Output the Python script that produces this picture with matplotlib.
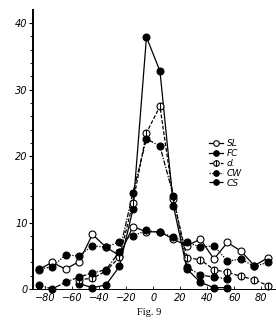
import numpy as np
import matplotlib
matplotlib.use('Agg')
import matplotlib.pyplot as plt
from matplotlib.path import Path
from matplotlib.legend_handler import HandlerLine2D

# angle positions (degrees) and the five series
X = [-85, -75, -65, -55, -45, -35, -25, -15, -5, 5, 15, 25, 35, 45, 55, 65, 75, 85]
nan = np.nan
SL = [2.9, 4.0, 3.0, 4.1, 8.2, 6.3, 5.0, 9.4, 8.6, 8.6, 7.5, 6.5, 7.5, 4.5, 7.0, 5.7, 3.5, 4.7]
FC = [nan, nan, nan, 0.8, 0.2, 0.6, 3.4, 12.0, 37.9, 32.8, 12.5, 3.0, 1.0, 0.2, 0.2, nan, nan, nan]
D = [nan, nan, nan, 1.4, 1.6, 2.7, 4.8, 13.0, 23.5, 27.5, 13.5, 4.7, 4.4, 2.9, 2.5, 1.9, 1.4, 0.5]
CW = [3.0, 3.3, 5.1, 5.0, 6.5, 6.3, 7.1, 8.0, 8.8, 8.5, 7.8, 7.0, 6.3, 6.5, 4.2, 4.5, 3.4, 4.0]
CS = [0.6, 0.0, 1.0, 1.8, 2.4, 2.9, 5.6, 14.5, 22.6, 21.5, 14.0, 3.3, 2.1, 1.8, 1.5, nan, nan, nan]

LABELS = ["SL", "FC", "d.", "CW", "CS"]
X_TICKS = [-80, -60, -40, -20, 0, 20, 40, 60, 80]
Y_TICKS = [0, 10, 20, 30, 40]


class EndMarkerHandler(HandlerLine2D):
    """Legend handle: line with the marker at its right end."""
    def get_xdata(self, legend, xdescent, ydescent, width, height, fontsize):
        xdata = np.array([-xdescent, -xdescent + width])
        return xdata, np.array([-xdescent + width])


# circle with a vertical bar for the "d." series
bar_circle = Path.make_compound_path(Path.unit_circle(),
                                     Path([(0, -1), (0, 1)], [Path.MOVETO, Path.LINETO]))

fig = plt.figure(figsize=(2.76, 3.2), dpi=100)
ax = fig.add_axes([0.12, 0.097, 0.88, 0.872])

styles = [
    dict(ls="-", marker="o", mfc="white"),
    dict(ls="-", marker="o", mfc="black"),
    dict(ls=(0, (3, 1.5)), marker=bar_circle, mfc="white"),
    dict(ls=(0, (1, 1.2)), marker="o", mfc="black"),
    dict(ls=(0, (4, 1.2, 1, 1.2)), marker="o", mfc="black"),
]
handles = []
for ys, lab, st in zip([SL, FC, D, CW, CS], LABELS, styles):
    h, = ax.plot(X, ys, color="black", lw=0.9, ms=5, mec="black", mew=0.8,
                 label=lab, clip_on=False, **st)
    handles.append(h)

ax.set_xlim(-89, 91)
ax.set_ylim(0, 42)
ax.spines["top"].set_visible(False)
ax.spines["right"].set_visible(False)
ax.spines["left"].set_linewidth(1.4)
ax.spines["bottom"].set_linewidth(0.7)

ax.set_xticks(X_TICKS)
ax.set_xticklabels([str(t).replace("-", "\u2212") for t in X_TICKS])
ax.set_yticks(Y_TICKS)
ax.set_yticks(np.arange(0, 42, 2), minor=True)
ax.tick_params(axis="x", direction="in", length=2, width=0.6, labelsize=7, pad=3)
ax.tick_params(axis="y", direction="out", length=3, width=0.8, labelsize=7, pad=1)
ax.tick_params(axis="y", which="minor", direction="out", length=2, width=0.6)
for t in ax.get_xticklabels() + ax.get_yticklabels():
    t.set_fontstyle("italic")

ax.legend(handles=handles, loc="upper left", bbox_to_anchor=(0.7, 0.56),
          frameon=False, prop={"style": "italic", "size": 6.5},
          handlelength=1.5, handletextpad=0.4, labelspacing=0.1, numpoints=1,
          markerscale=0.8, borderpad=0.2,
          handler_map={matplotlib.lines.Line2D: EndMarkerHandler()})

fig.text(0.54, 0.024, "Fig. 9", ha="center", va="center", fontsize=7.5,
         family="Liberation Serif")

fig.savefig("out.png", dpi=100)
